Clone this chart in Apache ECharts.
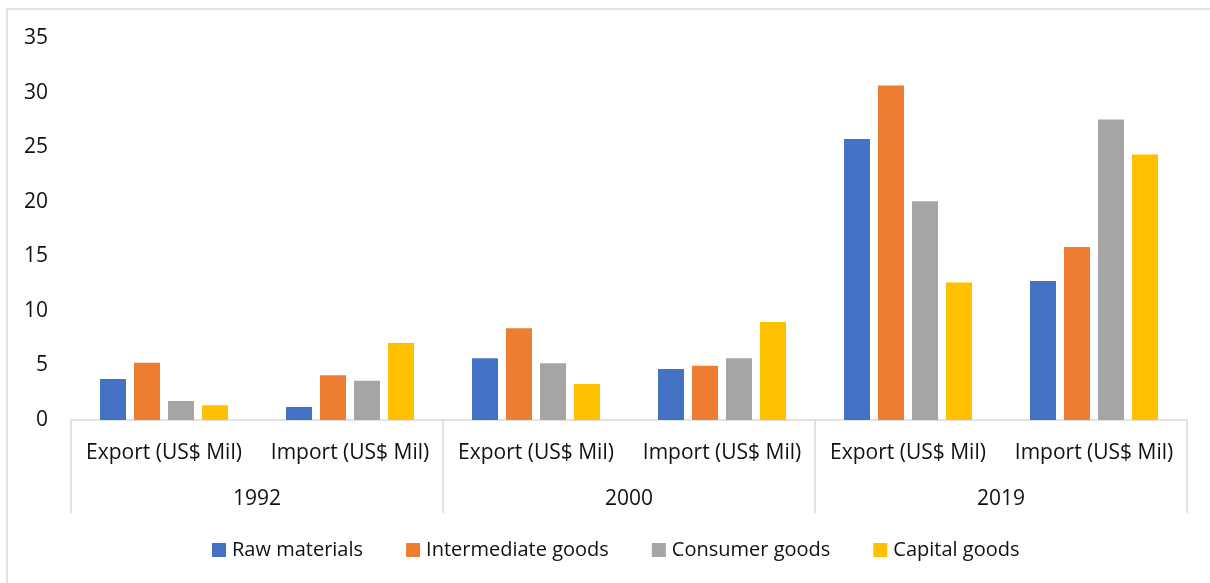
<!DOCTYPE html>
<html>
<head>
<meta charset="utf-8">
<script src="https://cdn.jsdelivr.net/npm/echarts@6/dist/echarts.min.js"></script>
<style>
  html, body { margin: 0; padding: 0; background: #fff; }
  #chart { width: 1210px; height: 583px; }
</style>
</head>
<body>
<div id="chart"></div>
<script>
// categories (two-level axis)
const flows = ["Export (US$ Mil)", "Import (US$ Mil)", "Export (US$ Mil)", "Import (US$ Mil)", "Export (US$ Mil)", "Import (US$ Mil)"];
const years = ["1992", "2000", "2019"];

// series values
const rawMaterials = [3.76, 1.19, 5.65, 4.67, 25.75, 12.74];
const intermediateGoods = [5.25, 4.1, 8.4, 4.98, 30.64, 15.86];
const consumerGoods = [1.74, 3.6, 5.2, 5.65, 20.04, 27.53];
const capitalGoods = [1.35, 7.06, 3.3, 8.98, 12.59, 24.32];

const seriesNames = ["Raw materials", "Intermediate goods", "Consumer goods", "Capital goods"];
const colors = ["#4472C4", "#ED7D31", "#A5A5A5", "#FFC000"];

const font = "'Open Sans', sans-serif";
const textColor = "#111";
const lineColor = "#d9d9d9";

const chart = echarts.init(document.getElementById("chart"));

const seriesData = [rawMaterials, intermediateGoods, consumerGoods, capitalGoods];

chart.setOption({
  animation: false,
  color: colors,
  graphic: [{
    type: "rect",
    shape: { x: 7, y: 9, width: 1300, height: 700 },
    style: { fill: "none", stroke: lineColor, lineWidth: 1.5 },
    silent: true
  }],
  grid: { left: 71, right: 23, top: 38, bottom: 163 },
  legend: {
    left: 207,
    top: 535,
    itemWidth: 14,
    itemHeight: 14,
    itemGap: 43,
    icon: "rect",
    textStyle: { fontFamily: font, fontSize: 20, color: textColor, padding: [0, 0, 0, 1] },
    data: seriesNames
  },
  xAxis: [
    {
      type: "category",
      data: flows,
      position: "bottom",
      axisLine: { lineStyle: { color: lineColor, width: 1.5 } },
      axisTick: { show: false },
      axisLabel: { fontFamily: font, fontSize: 21, color: textColor, margin: 23, interval: 0 }
    },
    {
      type: "category",
      data: years,
      position: "bottom",
      axisLine: { show: false },
      axisTick: { show: true, length: 93, inside: false, lineStyle: { color: lineColor, width: 1.5 } },
      axisLabel: { fontFamily: font, fontSize: 21, color: textColor, margin: 69, interval: 0 },
      splitLine: { show: false }
    }
  ],
  yAxis: {
    type: "value",
    min: 0,
    max: 35,
    interval: 5,
    axisLine: { show: false },
    axisTick: { show: false },
    splitLine: { show: false },
    axisLabel: { fontFamily: font, fontSize: 21, color: textColor, margin: 23 }
  },
  series: seriesNames.map((name, i) => ({
    name: name,
    type: "bar",
    xAxisIndex: 0,
    data: seriesData[i],
    barWidth: 26,
    barGap: "30.8%",
    itemStyle: { color: colors[i] }
  }))
});
</script>
</body>
</html>
